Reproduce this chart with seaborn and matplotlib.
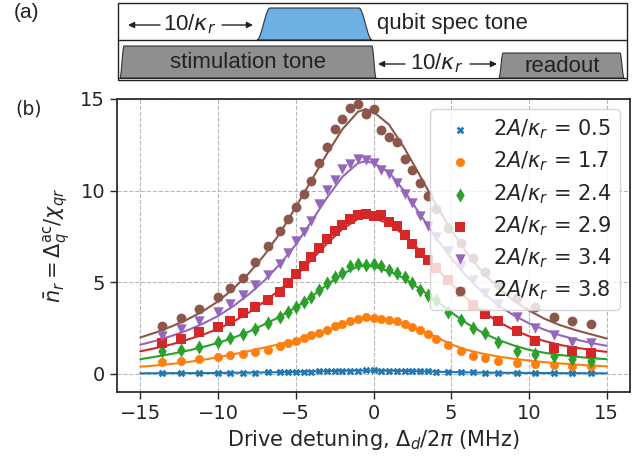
import numpy as np
import pandas as pd
import matplotlib
matplotlib.use("Agg")
import matplotlib.pyplot as plt
import seaborn as sns
from matplotlib.patches import Polygon, Rectangle

# ---------------- data ----------------
X_POINTS = [-13.6, -12.4, -11.2, -10.0, -9.2, -8.4, -7.6, -6.8,
            -6.0, -5.5, -5.0, -4.5, -4.0, -3.5, -3.0, -2.5, -2.0, -1.5, -1.0, -0.5,
            0.0, 0.5, 1.0, 1.5, 2.0, 2.5, 3.0, 3.5, 4.0,
            4.8, 5.6, 6.4, 7.2, 8.0, 9.2, 10.4, 11.6, 12.8, 14.0]

PTS_05 = [0.03, 0.03, 0.04, 0.04, 0.05, 0.05, 0.06, 0.07,
          0.08, 0.09, 0.10, 0.10, 0.11, 0.12, 0.13, 0.14, 0.15, 0.16, 0.17, 0.18,
          0.18, 0.17, 0.17, 0.16, 0.15, 0.14, 0.13, 0.12, 0.11,
          0.09, 0.08, 0.07, 0.06, 0.05, 0.04, 0.04, 0.03, 0.03, 0.03]
PTS_17 = [0.63, 0.68, 0.81, 0.93, 1.04, 1.08, 1.17, 1.30,
          1.50, 1.67, 1.81, 1.96, 2.09, 2.21, 2.40, 2.58, 2.73, 2.88, 2.97, 3.09,
          3.06, 3.00, 2.95, 2.88, 2.73, 2.55, 2.36, 2.18, 1.90,
          1.58, 1.26, 0.99, 0.86, 0.71, 0.57, 0.53, 0.48, 0.44, 0.44]
PTS_24 = [1.24, 1.30, 1.46, 1.71, 1.94, 2.16, 2.44, 2.75,
          3.09, 3.37, 3.64, 3.92, 4.19, 4.56, 4.93, 5.29, 5.48, 5.88, 5.99, 5.93,
          5.99, 5.88, 5.66, 5.48, 5.29, 4.96, 4.56, 4.29, 4.01,
          3.37, 2.95, 2.51, 2.20, 1.75, 1.25, 1.07, 0.95, 0.78, 0.70]
PTS_29 = [1.70, 1.89, 2.25, 2.56, 2.86, 3.30, 3.63, 4.05,
          4.47, 4.93, 5.44, 5.88, 6.39, 6.85, 7.35, 7.77, 8.13, 8.46, 8.64, 8.72,
          8.59, 8.64, 8.31, 8.04, 7.58, 7.08, 6.58, 6.21, 5.75,
          5.10, 4.47, 3.74, 3.25, 2.85, 2.35, 1.80, 1.43, 1.25, 1.15]
PTS_34 = [2.07, 2.44, 2.89, 3.35, 3.81, 4.27, 4.82, 5.40,
          6.00, 6.60, 7.22, 7.73, 8.35, 9.27, 10.02, 10.60, 11.20, 11.43, 11.70, 11.67,
          11.52, 11.15, 10.88, 10.42, 9.82, 9.32, 8.59, 8.04, 7.49,
          6.70, 5.90, 5.10, 4.40, 3.80, 3.10, 2.50, 2.10, 1.72, 1.68]
PTS_38 = [2.62, 3.04, 3.53, 4.21, 4.67, 5.20, 6.10, 6.95,
          7.77, 8.44, 9.08, 9.82, 10.51, 11.52, 12.40, 13.35, 13.90, 14.50, 14.73, 14.18,
          14.45, 13.30, 12.93, 12.66, 11.70, 11.10, 10.42, 9.73, 9.01,
          7.95, 7.13, 6.30, 5.55, 4.90, 4.15, 3.65, 3.10, 2.85, 2.70]

LINE_X = [-15, -14, -13, -12, -11, -10, -9, -8, -7, -6, -5, -4, -3, -2, -1, -0.5,
          0, 1, 2, 3, 4, 5, 6, 7, 8, 9, 10, 11, 12, 13, 14, 15]
FIT_05 = [0.02, 0.025, 0.03, 0.03, 0.035, 0.04, 0.05, 0.06, 0.07, 0.08, 0.10, 0.12, 0.14, 0.155, 0.17, 0.17,
          0.17, 0.16, 0.15, 0.13, 0.11, 0.09, 0.075, 0.06, 0.05, 0.045, 0.04, 0.035, 0.03, 0.028, 0.025, 0.02]
FIT_17 = [0.38, 0.45, 0.53, 0.63, 0.75, 0.90, 1.06, 1.24, 1.43, 1.62, 1.83, 2.08, 2.38, 2.70, 2.95, 3.00,
          3.00, 2.90, 2.68, 2.38, 2.02, 1.60, 1.30, 1.10, 0.94, 0.82, 0.72, 0.63, 0.56, 0.50, 0.44, 0.40]
FIT_24 = [0.79, 0.93, 1.08, 1.25, 1.45, 1.68, 1.97, 2.30, 2.70, 3.12, 3.62, 4.20, 4.85, 5.45, 5.85, 5.90,
          5.85, 5.60, 5.20, 4.62, 4.00, 3.35, 2.75, 2.25, 1.85, 1.55, 1.30, 1.14, 1.02, 0.93, 0.85, 0.79]
FIT_29 = [1.22, 1.40, 1.60, 1.85, 2.12, 2.45, 2.85, 3.35, 3.95, 4.60, 5.35, 6.20, 7.10, 7.90, 8.45, 8.55,
          8.50, 8.20, 7.55, 6.70, 5.80, 4.90, 4.10, 3.40, 2.85, 2.40, 2.05, 1.78, 1.57, 1.42, 1.30, 1.19]
FIT_34 = [1.58, 1.80, 2.06, 2.36, 2.72, 3.15, 3.70, 4.35, 5.10, 6.00, 7.05, 8.30, 9.60, 10.75, 11.50, 11.60,
          11.50, 11.00, 9.95, 8.70, 7.45, 6.30, 5.30, 4.45, 3.75, 3.20, 2.75, 2.40, 2.10, 1.87, 1.68, 1.52]
FIT_38 = [1.98, 2.25, 2.58, 2.95, 3.40, 3.95, 4.65, 5.50, 6.50, 7.70, 9.10, 10.55, 12.00, 13.35, 14.30, 14.45,
          14.30, 13.60, 12.30, 10.80, 9.25, 7.85, 6.60, 5.55, 4.70, 4.00, 3.45, 3.00, 2.65, 2.38, 2.15, 1.92]

AMPLITUDES = ["0.5", "1.7", "2.4", "2.9", "3.4", "3.8"]
POINT_SERIES = [PTS_05, PTS_17, PTS_24, PTS_29, PTS_34, PTS_38]
FIT_SERIES = [FIT_05, FIT_17, FIT_24, FIT_29, FIT_34, FIT_38]

X_TICKS = [-15, -10, -5, 0, 5, 10, 15]
Y_TICKS = [0, 5, 10, 15]

# ---------------- style ----------------
sns.set_theme(style="ticks", rc={
    "axes.grid": True,
    "grid.linestyle": "--",
    "grid.color": "#b8b8b8",
    "grid.linewidth": 0.8,
    "axes.edgecolor": "#262626",
    "axes.linewidth": 1.25,
})
plt.rcParams["font.family"] = ["DejaVu Sans"]

colors = sns.color_palette("tab10", 6)
markers = ["X", "8", "d", "s", "v", "o"]
sizes = [30, 46, 52, 42, 56, 50]

fig = plt.figure(figsize=(6.41, 4.57), dpi=100)
W, H = 641.0, 457.0
ax = fig.add_axes([117 / W, 1 - 392 / H, (630 - 117) / W, (392 - 99) / H])

for amp, pts, fit, c, m, s in zip(AMPLITUDES, POINT_SERIES, FIT_SERIES, colors, markers, sizes):
    sns.lineplot(x=LINE_X, y=fit, color=c, lw=1.5, ax=ax, legend=False, zorder=2)
    df = pd.DataFrame({"x": X_POINTS, "y": pts})
    sns.scatterplot(data=df, x="x", y="y", color=c, marker=m, s=s, linewidth=0,
                    ax=ax, zorder=3, label=r"$2A/\kappa_r$ = " + amp)

ax.set_xlim(-16.5, 16.5)
ax.set_ylim(-1.0, 15.0)
ax.set_xticks(X_TICKS)
ax.set_yticks(Y_TICKS)
ax.tick_params(labelsize=14, length=5, width=1.0, colors="#262626")
ax.set_xlabel(r"Drive detuning, $\Delta_d/2\pi$ (MHz)", fontsize=15, color="#262626", labelpad=4)
ax.set_ylabel(r"$\bar{n}_r = \Delta_q^{\mathrm{ac}}/\chi_{qr}$", fontsize=15, color="#262626", labelpad=5)
leg = ax.legend(loc="upper right", fontsize=15, handletextpad=0.6, labelspacing=0.41,
                borderpad=0.4, handlelength=2.0, framealpha=0.8, borderaxespad=0.5)
for t in leg.get_texts():
    t.set_color("#262626")

fig.text(15 / W, 1 - 109 / H, "(b)", fontsize=13.5, va="center", ha="left", color="#262626")

# ---------------- panel (a) schematic ----------------
axa = fig.add_axes([0, 1 - 85 / H, 1, 85 / H])
axa.set_xlim(0, W)
axa.set_ylim(85, 0)
axa.axis("off")

def pulse(x0, x1, ytop, ybase, rise):
    t = np.linspace(0, 1, 20)
    sm = 3 * t ** 2 - 2 * t ** 3
    up = np.column_stack([x0 + rise * t, ybase - (ybase - ytop) * sm])
    down = np.column_stack([x1 - rise + rise * t, ytop + (ybase - ytop) * sm])
    return np.vstack([up, down])

axa.add_patch(Rectangle((118, 3), 509, 77, fill=False, ec="#222222", lw=1.0))
axa.plot([118, 627], [40, 40], color="#222222", lw=1.0)
axa.plot([118, 627], [78, 78], color="#222222", lw=0.8)
axa.add_patch(Polygon(pulse(257, 372, 8, 40, 13), closed=True, fc="#6cb0e4", ec="#333333", lw=0.8))
axa.add_patch(Polygon(pulse(120, 376, 46, 78, 4), closed=True, fc="#8f8f8f", ec="#333333", lw=0.8))
axa.add_patch(Polygon(pulse(499, 624, 53, 78, 4), closed=True, fc="#8f8f8f", ec="#333333", lw=0.8))

ff = ["Liberation Sans", "DejaVu Sans"]
axa.text(14, 12, "(a)", fontsize=15, family=ff, va="center", ha="left", color="#222222")
axa.text(377, 24, "qubit spec tone", fontsize=16, family=ff, va="center", ha="left", color="#222222")
axa.text(248, 62, "stimulation tone", fontsize=16, family=ff, va="center", ha="center", color="#222222")
axa.text(562, 66, "readout", fontsize=16, family=ff, va="center", ha="center", color="#222222")
axa.text(190, 24, r"10/$\kappa_r$", fontsize=16, family=ff, va="center", ha="center", color="#222222")
axa.text(437, 63, r"10/$\kappa_r$", fontsize=16, family=ff, va="center", ha="center", color="#222222")
arw = dict(arrowstyle="-|>", color="#222222", lw=1.0, mutation_scale=9, shrinkA=0, shrinkB=0)
axa.annotate("", xy=(128, 25), xytext=(160, 25), arrowprops=arw)
axa.annotate("", xy=(253, 25), xytext=(222, 25), arrowprops=arw)
axa.annotate("", xy=(378, 64), xytext=(405, 64), arrowprops=arw)
axa.annotate("", xy=(497, 64), xytext=(470, 64), arrowprops=arw)

fig.savefig("out.png", dpi=100)
